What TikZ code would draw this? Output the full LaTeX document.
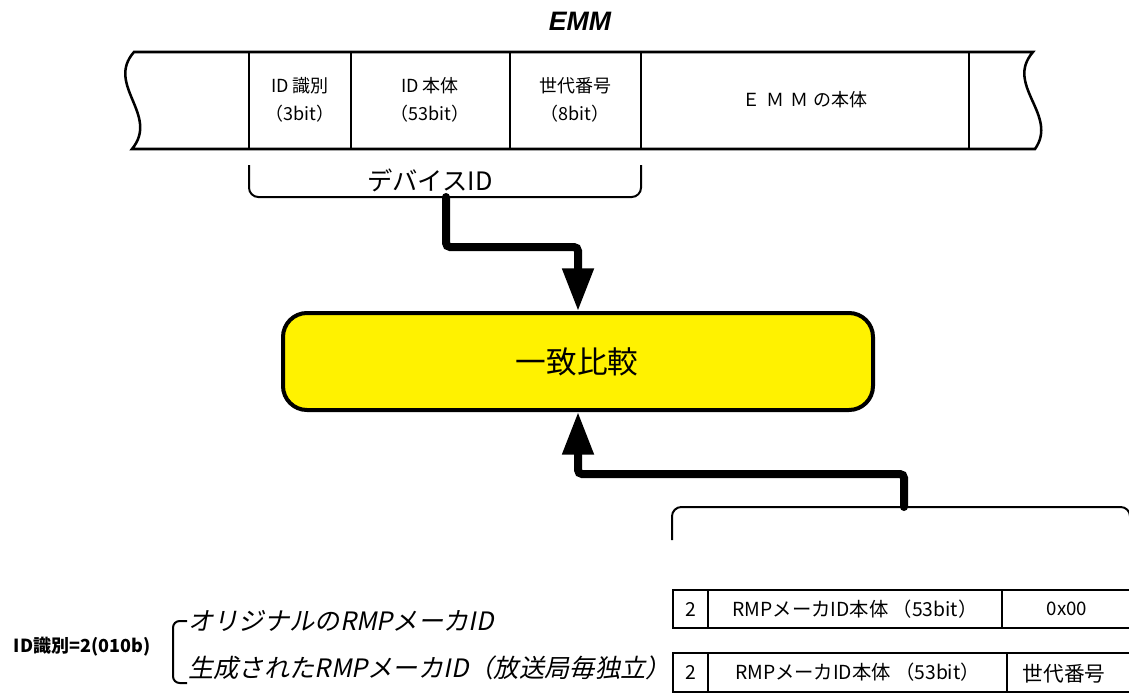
\documentclass[tikz,border=0pt]{standalone}
\usepackage{fontspec}
\setmainfont{Noto Sans CJK JP}
\newfontfamily\cjkit[FakeSlant=0.2]{Noto Sans CJK JP}
\newfontfamily\titlefont{Liberation Sans}
\usetikzlibrary{arrows.meta}
\tikzset{
  band/.style={line width=1.9pt},
  txt/.style={inner sep=0pt, align=center},
  bandtxt/.style={txt, font=\fontsize{13.5}{21}\selectfont},
  brk/.style={line width=1.5pt, rounded corners=7pt},
  conn/.style={line width=6pt, rounded corners=3pt, line cap=round,
    -{Triangle[width=22.5pt,length=32pt]}},
  cmpbox/.style={draw, line width=3pt, fill=yellow, rounded corners=18pt,
    inner sep=0pt},
  cell/.style={draw, line width=1.5pt, inner sep=0pt,
    font=\fontsize{14.5}{17}\selectfont},
  itl/.style={txt, anchor=west, font=\cjkit\fontsize{19}{22}\selectfont},
}
\begin{document}
\begin{tikzpicture}[x=0.75pt,y=-0.75pt]
\useasboundingbox[fill=white] (0,0) rectangle (1129,693);

% title
\node[txt, font=\titlefont\bfseries\itshape\fontsize{20}{24}\selectfont] (title) at (580,21) {EMM};

% EMM band
\draw[band] (134,52) -- (1033,52)
  .. controls (1004,85) and (1059,115) .. (1035,149)
  -- (132,149)
  .. controls (160,115) and (105,85) .. (134,52) -- cycle;
\foreach \x in {249,351,510,641,969}
  \draw[band] (\x,52) -- (\x,149);

\node[bandtxt] (f1) at (300,100) {ID 識別\\（3bit）};
\node[bandtxt] (f2) at (430,100) {ID 本体\\（53bit）};
\node[bandtxt] (f3) at (575,100) {世代番号\\（8bit）};
\node[bandtxt] (f4) at (805,100) {Ｅ\,\,Ｍ\,\,Ｍ の本体};

% device ID bracket
\coordinate (devL) at (249,165);
\coordinate (devR) at (641,165);
\coordinate (devM) at (446,197);
\draw[brk] (devL) -- (249,197) -- (641,197) -- (devR);
\node[txt, font=\fontsize{19}{22}\selectfont] (dev) at (430,180) {デバイスID};

% comparison box
\node[cmpbox, minimum width=590*0.75pt, minimum height=97*0.75pt] (cmp) at (578,361.5) {};
\node[txt, font=\fontsize{23}{26}\selectfont] (cmptxt) at (577,362) {一致比較};

% lower bracket
\coordinate (brM) at (904,507);
\draw[brk] (672,540) -- (672,507) -- (1130,507) -- (1130,540);

% connectors
\draw[conn] (devM) -- (446,247) -| (cmp.north);
\draw[conn] (brM) -- (904,474) -| (cmp.south);

% left brace and labels
\node[txt, font=\bfseries\fontsize{13.5}{16}\selectfont] (idlbl) at (82,647) {ID識別=2(010b)};
\draw[line width=1.5pt, rounded corners=5pt] (187,621) -- (173,621) -- (173,683) -- (187,683);
\node[itl] (o1) at (188,621) {オリジナルのRMPメーカID};
\node[itl] (o2) at (188,668) {生成されたRMPメーカID（放送局毎独立）};

% table rows
\node[cell, minimum width=35*0.75pt, minimum height=38*0.75pt] (a1) at (690.5,609) {2};
\node[cell, minimum width=294*0.75pt, minimum height=38*0.75pt] (b1) at (855,609) {RMPメーカID本体 （53bit）};
\node[cell, minimum width=140*0.75pt, minimum height=38*0.75pt] (c1) at (1072,609) {};
\node[txt, font=\fontsize{14}{16}\selectfont] (c1t) at (1067,609) {0x00};

\node[cell, minimum width=35*0.75pt, minimum height=39*0.75pt] (a2) at (690.5,672.5) {2};
\node[cell, minimum width=299*0.75pt, minimum height=39*0.75pt] (b2) at (857.5,672.5) {RMPメーカID本体 （53bit）};
\node[cell, minimum width=140*0.75pt, minimum height=39*0.75pt] (c2) at (1077,672.5) {};
\node[txt, font=\fontsize{15.5}{18}\selectfont] (c2t) at (1064,674) {世代番号};
\end{tikzpicture}
\end{document}
